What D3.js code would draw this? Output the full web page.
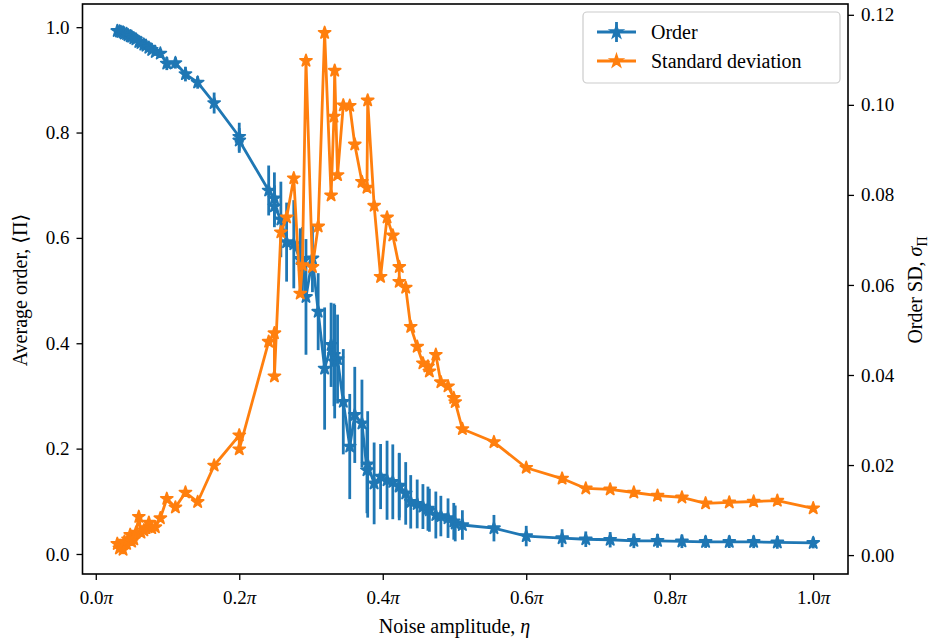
<!DOCTYPE html>
<html>
<head>
<meta charset="utf-8">
<script src="https://cdn.jsdelivr.net/npm/d3@7"></script>
<style>
  body { margin: 0; background: #fff; }
  svg text { font-family: "Liberation Serif", "DejaVu Serif", serif; fill: #000; }
</style>
</head>
<body>
<svg width="929" height="641"></svg>
<script>
// noise amplitude (units of pi)
var eta = [0.030, 0.033, 0.035, 0.038, 0.040, 0.043, 0.045, 0.048, 0.050, 0.053,
  0.056, 0.060, 0.063, 0.067, 0.070, 0.074, 0.078, 0.083, 0.090, 0.099,
  0.111, 0.125, 0.142, 0.165, 0.200, 0.200, 0.241, 0.249, 0.249, 0.258,
  0.266, 0.276, 0.285, 0.288, 0.293, 0.302, 0.310, 0.319, 0.328, 0.332,
  0.333, 0.337, 0.345, 0.354, 0.361, 0.371, 0.378, 0.379, 0.388, 0.397,
  0.406, 0.414, 0.423, 0.423, 0.432, 0.439, 0.448, 0.456, 0.463, 0.465,
  0.474, 0.481, 0.491, 0.499, 0.501, 0.511, 0.555, 0.600, 0.650, 0.683,
  0.717, 0.750, 0.783, 0.817, 0.850, 0.883, 0.917, 0.950, 1.000];
// average order <Pi>
var order = [0.993, 0.992, 0.991, 0.990, 0.988, 0.987, 0.985, 0.983, 0.982, 0.979,
  0.977, 0.972, 0.970, 0.967, 0.965, 0.961, 0.957, 0.953, 0.950, 0.931,
  0.932, 0.911, 0.895, 0.856, 0.792, 0.785, 0.690, 0.675, 0.660, 0.635,
  0.592, 0.588, 0.560, 0.556, 0.488, 0.561, 0.460, 0.352, 0.397, 0.378,
  0.365, 0.370, 0.289, 0.204, 0.264, 0.248, 0.159, 0.170, 0.134, 0.147,
  0.140, 0.137, 0.128, 0.130, 0.115, 0.099, 0.095, 0.090, 0.086, 0.083,
  0.074, 0.072, 0.068, 0.062, 0.058, 0.055, 0.049, 0.034, 0.030, 0.028,
  0.027, 0.025, 0.025, 0.024, 0.023, 0.023, 0.023, 0.022, 0.021];
// standard deviation of order (also the error bars)
var sd = [0.0025, 0.0015, 0.0020, 0.0012, 0.0030, 0.0025, 0.0035, 0.0045, 0.0030, 0.0035,
  0.0050, 0.0085, 0.0050, 0.0055, 0.0060, 0.0072, 0.0060, 0.0062, 0.0082, 0.0125,
  0.0106, 0.0139, 0.0118, 0.0199, 0.0266, 0.0235, 0.0474, 0.0493, 0.0397, 0.0717,
  0.0750, 0.0837, 0.0581, 0.0644, 0.1098, 0.0640, 0.0730, 0.1160, 0.0799, 0.0974,
  0.1076, 0.0844, 0.0999, 0.0998, 0.0912, 0.0829, 0.0816, 0.1010, 0.0776, 0.0618,
  0.0750, 0.0710, 0.0640, 0.0607, 0.0594, 0.0507, 0.0463, 0.0426, 0.0419, 0.0408,
  0.0445, 0.0384, 0.0375, 0.0349, 0.0340, 0.0280, 0.0251, 0.0194, 0.0170, 0.0148,
  0.0146, 0.0139, 0.0132, 0.0128, 0.0115, 0.0117, 0.0119, 0.0121, 0.0104];

var xTicks = [0, 0.2, 0.4, 0.6, 0.8, 1.0];
var yTicks = [0, 0.2, 0.4, 0.6, 0.8, 1.0];
var y2Ticks = [0, 0.02, 0.04, 0.06, 0.08, 0.10, 0.12];

var blue = "#1f77b4", orange = "#ff7f0e";
var pL = 82.5, pR = 848, pT = 4, pB = 574;
var lw = 2.8;

var svg = d3.select("svg");

var xMin = d3.min(eta), xMax = d3.max(eta), pad = 0.05 * (xMax - xMin);
var x = d3.scaleLinear().domain([xMin - pad, xMax + pad]).range([pL, pR]);
var y = d3.scaleLinear().domain([-0.038, 1.044]).range([pB, pT]);
var y2 = d3.scaleLinear().domain([-0.0042, 0.1224]).range([pB, pT]);

var data = eta.map(function(e, i) { return {x: e, m: order[i], s: sd[i]}; });

// five pointed star, like matplotlib's "*"
function star(r) {
  var pts = [];
  for (var k = 0; k < 10; k++) {
    var rr = k % 2 === 0 ? r : r * 0.381966;
    var a = -Math.PI / 2 + k * Math.PI / 5;
    pts.push([rr * Math.cos(a), rr * Math.sin(a)]);
  }
  return "M" + pts.map(function(p) { return p[0].toFixed(2) + "," + p[1].toFixed(2); }).join("L") + "Z";
}
var starPath = star(6.3);

// order: error bars, line, markers
var gOrder = svg.append("g");
gOrder.selectAll("line.err")
    .data(data)
  .enter().append("line")
    .attr("class", "err")
    .attr("x1", function(d) { return x(d.x); })
    .attr("x2", function(d) { return x(d.x); })
    .attr("y1", function(d) { return y(d.m - d.s); })
    .attr("y2", function(d) { return y(d.m + d.s); })
    .style("stroke", blue).style("stroke-width", lw);

gOrder.append("path")
    .datum(data)
    .attr("d", d3.line().x(function(d) { return x(d.x); }).y(function(d) { return y(d.m); }))
    .style("fill", "none").style("stroke", blue).style("stroke-width", lw)
    .style("stroke-linejoin", "round");

gOrder.selectAll("path.mk")
    .data(data)
  .enter().append("path")
    .attr("class", "mk")
    .attr("d", starPath)
    .attr("transform", function(d) { return "translate(" + x(d.x) + "," + y(d.m) + ")"; })
    .style("fill", blue).style("stroke", blue).style("stroke-width", 1.8)
    .style("stroke-linejoin", "round");

// standard deviation on twin axis
var gSd = svg.append("g");
gSd.append("path")
    .datum(data)
    .attr("d", d3.line().x(function(d) { return x(d.x); }).y(function(d) { return y2(d.s); }))
    .style("fill", "none").style("stroke", orange).style("stroke-width", lw)
    .style("stroke-linejoin", "round");

gSd.selectAll("path.mk")
    .data(data)
  .enter().append("path")
    .attr("class", "mk")
    .attr("d", starPath)
    .attr("transform", function(d) { return "translate(" + x(d.x) + "," + y2(d.s) + ")"; })
    .style("fill", orange).style("stroke", orange).style("stroke-width", 1.8)
    .style("stroke-linejoin", "round");

// frame
svg.append("rect")
    .attr("x", pL).attr("y", pT)
    .attr("width", pR - pL).attr("height", pB - pT)
    .style("fill", "none").style("stroke", "#000").style("stroke-width", 1.6);

// axes
function styleAxis(g) {
  g.select(".domain").remove();
  g.selectAll(".tick line").style("stroke", "#000").style("stroke-width", 1.3);
  g.selectAll(".tick text").style("font-size", "19px")
    .style("font-family", "Liberation Serif, serif");
}

var xAxis = svg.append("g")
    .attr("transform", "translate(0," + pB + ")")
    .call(d3.axisBottom(x).tickValues(xTicks).tickSize(6).tickPadding(8).tickFormat(""));
styleAxis(xAxis);
xAxis.selectAll(".tick").append("text")
    .attr("y", 30).attr("text-anchor", "middle")
    .style("font-size", "19px")
    .each(function(d) {
      var t = d3.select(this);
      t.append("tspan").text(d3.format(".1f")(d));
      t.append("tspan").style("font-style", "italic").text("π");
    });

var yAxis = svg.append("g")
    .attr("transform", "translate(" + pL + ",0)")
    .call(d3.axisLeft(y).tickValues(yTicks).tickSize(6).tickPadding(7).tickFormat(d3.format(".1f")));
styleAxis(yAxis);

var y2Axis = svg.append("g")
    .attr("transform", "translate(" + pR + ",0)")
    .call(d3.axisRight(y2).tickValues(y2Ticks).tickSize(6).tickPadding(7).tickFormat(d3.format(".2f")));
styleAxis(y2Axis);

// axis labels
var xl = svg.append("text")
    .attr("x", (x(0) + x(1)) / 2).attr("y", 633)
    .attr("text-anchor", "middle").style("font-size", "20px");
xl.append("tspan").text("Noise amplitude, ");
xl.append("tspan").style("font-style", "italic").text("η");

var yl = svg.append("text")
    .attr("transform", "translate(27,290) rotate(-90)")
    .attr("text-anchor", "middle").style("font-size", "20px");
yl.append("tspan").text("Average order, ⟨Π⟩");

var y2l = svg.append("text")
    .attr("transform", "translate(922,290) rotate(-90)")
    .attr("text-anchor", "middle").style("font-size", "20px");
y2l.append("tspan").text("Order SD, ");
y2l.append("tspan").style("font-style", "italic").text("σ");
y2l.append("tspan").attr("dy", 5).style("font-size", "14px").text("Π");

// legend
var lg = svg.append("g");
lg.append("rect")
    .attr("x", 583).attr("y", 12).attr("width", 257).attr("height", 71).attr("rx", 4)
    .style("fill", "#fff").style("fill-opacity", 0.8)
    .style("stroke", "#cccccc").style("stroke-width", 1.2);
var items = [{label: "Order", c: blue, err: true}, {label: "Standard deviation", c: orange, err: false}];
items.forEach(function(it, i) {
  var cy = 32 + i * 29;
  lg.append("line").attr("x1", 597).attr("x2", 636).attr("y1", cy).attr("y2", cy)
    .style("stroke", it.c).style("stroke-width", lw);
  if (it.err) {
    lg.append("line").attr("x1", 616.5).attr("x2", 616.5).attr("y1", cy - 10).attr("y2", cy + 10)
      .style("stroke", it.c).style("stroke-width", lw);
  }
  lg.append("path").attr("d", starPath).attr("transform", "translate(616.5," + cy + ")")
    .style("fill", it.c).style("stroke", it.c).style("stroke-width", 1.8);
  lg.append("text").attr("x", 651).attr("y", cy + 7).style("font-size", "20px").text(it.label);
});
</script>
</body>
</html>
